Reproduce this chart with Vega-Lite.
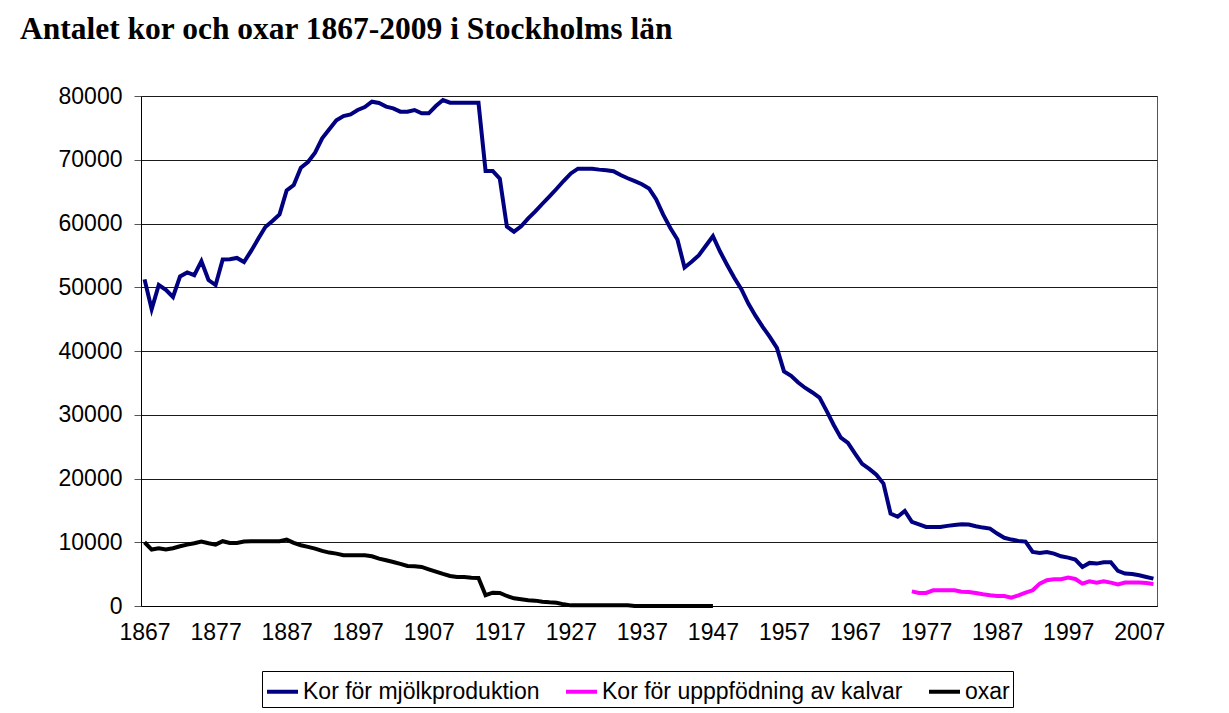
{
"$schema": "https://vega.github.io/schema/vega-lite/v6.json",
"width": 1016,
"height": 510,
"autosize": {"type": "none"},
"padding": {"left": 141, "top": 96, "right": 72, "bottom": 107},
"background": "white",
"title": {"text": "Antalet kor och oxar 1867-2009 i Stockholms län", "anchor": "start", "frame": "group", "dx": -121, "offset": 40, "font": "Liberation Serif", "fontSize": 31.5, "fontWeight": "bold", "color": "black"},
"data": {"values": [
{"year":1867,"series":"Kor för mjölkproduktion","count":51240},
{"year":1868,"series":"Kor för mjölkproduktion","count":46540},
{"year":1869,"series":"Kor för mjölkproduktion","count":50350},
{"year":1870,"series":"Kor för mjölkproduktion","count":49600},
{"year":1871,"series":"Kor för mjölkproduktion","count":48470},
{"year":1872,"series":"Kor för mjölkproduktion","count":51700},
{"year":1873,"series":"Kor för mjölkproduktion","count":52330},
{"year":1874,"series":"Kor för mjölkproduktion","count":51900},
{"year":1875,"series":"Kor för mjölkproduktion","count":54100},
{"year":1876,"series":"Kor för mjölkproduktion","count":51130},
{"year":1877,"series":"Kor för mjölkproduktion","count":50350},
{"year":1878,"series":"Kor för mjölkproduktion","count":54370},
{"year":1879,"series":"Kor för mjölkproduktion","count":54400},
{"year":1880,"series":"Kor för mjölkproduktion","count":54600},
{"year":1881,"series":"Kor för mjölkproduktion","count":53950},
{"year":1882,"series":"Kor för mjölkproduktion","count":55700},
{"year":1883,"series":"Kor för mjölkproduktion","count":57600},
{"year":1884,"series":"Kor för mjölkproduktion","count":59450},
{"year":1885,"series":"Kor för mjölkproduktion","count":60390},
{"year":1886,"series":"Kor för mjölkproduktion","count":61430},
{"year":1887,"series":"Kor för mjölkproduktion","count":65200},
{"year":1888,"series":"Kor för mjölkproduktion","count":66040},
{"year":1889,"series":"Kor för mjölkproduktion","count":68760},
{"year":1890,"series":"Kor för mjölkproduktion","count":69650},
{"year":1891,"series":"Kor för mjölkproduktion","count":71100},
{"year":1892,"series":"Kor för mjölkproduktion","count":73360},
{"year":1893,"series":"Kor för mjölkproduktion","count":74770},
{"year":1894,"series":"Kor för mjölkproduktion","count":76180},
{"year":1895,"series":"Kor för mjölkproduktion","count":76860},
{"year":1896,"series":"Kor för mjölkproduktion","count":77120},
{"year":1897,"series":"Kor för mjölkproduktion","count":77800},
{"year":1898,"series":"Kor för mjölkproduktion","count":78270},
{"year":1899,"series":"Kor för mjölkproduktion","count":79110},
{"year":1900,"series":"Kor för mjölkproduktion","count":78900},
{"year":1901,"series":"Kor för mjölkproduktion","count":78330},
{"year":1902,"series":"Kor för mjölkproduktion","count":78060},
{"year":1903,"series":"Kor för mjölkproduktion","count":77540},
{"year":1904,"series":"Kor för mjölkproduktion","count":77540},
{"year":1905,"series":"Kor för mjölkproduktion","count":77800},
{"year":1906,"series":"Kor för mjölkproduktion","count":77280},
{"year":1907,"series":"Kor för mjölkproduktion","count":77280},
{"year":1908,"series":"Kor för mjölkproduktion","count":78430},
{"year":1909,"series":"Kor för mjölkproduktion","count":79370},
{"year":1910,"series":"Kor för mjölkproduktion","count":78950},
{"year":1911,"series":"Kor för mjölkproduktion","count":78950},
{"year":1912,"series":"Kor för mjölkproduktion","count":78950},
{"year":1913,"series":"Kor för mjölkproduktion","count":78950},
{"year":1914,"series":"Kor för mjölkproduktion","count":78950},
{"year":1915,"series":"Kor för mjölkproduktion","count":68240},
{"year":1916,"series":"Kor för mjölkproduktion","count":68240},
{"year":1917,"series":"Kor för mjölkproduktion","count":67030},
{"year":1918,"series":"Kor för mjölkproduktion","count":59500},
{"year":1919,"series":"Kor för mjölkproduktion","count":58720},
{"year":1920,"series":"Kor för mjölkproduktion","count":59550},
{"year":1921,"series":"Kor för mjölkproduktion","count":60800},
{"year":1922,"series":"Kor för mjölkproduktion","count":61900},
{"year":1923,"series":"Kor för mjölkproduktion","count":63100},
{"year":1924,"series":"Kor för mjölkproduktion","count":64250},
{"year":1925,"series":"Kor för mjölkproduktion","count":65450},
{"year":1926,"series":"Kor för mjölkproduktion","count":66700},
{"year":1927,"series":"Kor för mjölkproduktion","count":67850},
{"year":1928,"series":"Kor för mjölkproduktion","count":68600},
{"year":1929,"series":"Kor för mjölkproduktion","count":68600},
{"year":1930,"series":"Kor för mjölkproduktion","count":68600},
{"year":1931,"series":"Kor för mjölkproduktion","count":68450},
{"year":1932,"series":"Kor för mjölkproduktion","count":68350},
{"year":1933,"series":"Kor för mjölkproduktion","count":68200},
{"year":1934,"series":"Kor för mjölkproduktion","count":67600},
{"year":1935,"series":"Kor för mjölkproduktion","count":67100},
{"year":1936,"series":"Kor för mjölkproduktion","count":66650},
{"year":1937,"series":"Kor för mjölkproduktion","count":66150},
{"year":1938,"series":"Kor för mjölkproduktion","count":65500},
{"year":1939,"series":"Kor för mjölkproduktion","count":63800},
{"year":1940,"series":"Kor för mjölkproduktion","count":61400},
{"year":1941,"series":"Kor för mjölkproduktion","count":59300},
{"year":1942,"series":"Kor för mjölkproduktion","count":57500},
{"year":1943,"series":"Kor för mjölkproduktion","count":53100},
{"year":1944,"series":"Kor för mjölkproduktion","count":54000},
{"year":1945,"series":"Kor för mjölkproduktion","count":55000},
{"year":1946,"series":"Kor för mjölkproduktion","count":56500},
{"year":1947,"series":"Kor för mjölkproduktion","count":58000},
{"year":1948,"series":"Kor för mjölkproduktion","count":55600},
{"year":1949,"series":"Kor för mjölkproduktion","count":53500},
{"year":1950,"series":"Kor för mjölkproduktion","count":51500},
{"year":1951,"series":"Kor för mjölkproduktion","count":49700},
{"year":1952,"series":"Kor för mjölkproduktion","count":47400},
{"year":1953,"series":"Kor för mjölkproduktion","count":45500},
{"year":1954,"series":"Kor för mjölkproduktion","count":43800},
{"year":1955,"series":"Kor för mjölkproduktion","count":42200},
{"year":1956,"series":"Kor för mjölkproduktion","count":40500},
{"year":1957,"series":"Kor för mjölkproduktion","count":36800},
{"year":1958,"series":"Kor för mjölkproduktion","count":36100},
{"year":1959,"series":"Kor för mjölkproduktion","count":35050},
{"year":1960,"series":"Kor för mjölkproduktion","count":34200},
{"year":1961,"series":"Kor för mjölkproduktion","count":33500},
{"year":1962,"series":"Kor för mjölkproduktion","count":32700},
{"year":1963,"series":"Kor för mjölkproduktion","count":30600},
{"year":1964,"series":"Kor för mjölkproduktion","count":28400},
{"year":1965,"series":"Kor för mjölkproduktion","count":26400},
{"year":1966,"series":"Kor för mjölkproduktion","count":25600},
{"year":1967,"series":"Kor för mjölkproduktion","count":23900},
{"year":1968,"series":"Kor för mjölkproduktion","count":22300},
{"year":1969,"series":"Kor för mjölkproduktion","count":21500},
{"year":1970,"series":"Kor för mjölkproduktion","count":20600},
{"year":1971,"series":"Kor för mjölkproduktion","count":19200},
{"year":1972,"series":"Kor för mjölkproduktion","count":14500},
{"year":1973,"series":"Kor för mjölkproduktion","count":14000},
{"year":1974,"series":"Kor för mjölkproduktion","count":14900},
{"year":1975,"series":"Kor för mjölkproduktion","count":13200},
{"year":1976,"series":"Kor för mjölkproduktion","count":12800},
{"year":1977,"series":"Kor för mjölkproduktion","count":12400},
{"year":1978,"series":"Kor för mjölkproduktion","count":12400},
{"year":1979,"series":"Kor för mjölkproduktion","count":12400},
{"year":1980,"series":"Kor för mjölkproduktion","count":12570},
{"year":1981,"series":"Kor för mjölkproduktion","count":12700},
{"year":1982,"series":"Kor för mjölkproduktion","count":12830},
{"year":1983,"series":"Kor för mjölkproduktion","count":12780},
{"year":1984,"series":"Kor för mjölkproduktion","count":12520},
{"year":1985,"series":"Kor för mjölkproduktion","count":12300},
{"year":1986,"series":"Kor för mjölkproduktion","count":12150},
{"year":1987,"series":"Kor för mjölkproduktion","count":11360},
{"year":1988,"series":"Kor för mjölkproduktion","count":10700},
{"year":1989,"series":"Kor för mjölkproduktion","count":10420},
{"year":1990,"series":"Kor för mjölkproduktion","count":10210},
{"year":1991,"series":"Kor för mjölkproduktion","count":10100},
{"year":1992,"series":"Kor för mjölkproduktion","count":8480},
{"year":1993,"series":"Kor för mjölkproduktion","count":8330},
{"year":1994,"series":"Kor för mjölkproduktion","count":8480},
{"year":1995,"series":"Kor för mjölkproduktion","count":8220},
{"year":1996,"series":"Kor för mjölkproduktion","count":7800},
{"year":1997,"series":"Kor för mjölkproduktion","count":7590},
{"year":1998,"series":"Kor för mjölkproduktion","count":7280},
{"year":1999,"series":"Kor för mjölkproduktion","count":6130},
{"year":2000,"series":"Kor för mjölkproduktion","count":6760},
{"year":2001,"series":"Kor för mjölkproduktion","count":6650},
{"year":2002,"series":"Kor för mjölkproduktion","count":6860},
{"year":2003,"series":"Kor för mjölkproduktion","count":6860},
{"year":2004,"series":"Kor för mjölkproduktion","count":5500},
{"year":2005,"series":"Kor för mjölkproduktion","count":5080},
{"year":2006,"series":"Kor för mjölkproduktion","count":5030},
{"year":2007,"series":"Kor för mjölkproduktion","count":4820},
{"year":2008,"series":"Kor för mjölkproduktion","count":4560},
{"year":2009,"series":"Kor för mjölkproduktion","count":4300},
{"year":1975,"series":"Kor för upppfödning av kalvar","count":2300},
{"year":1976,"series":"Kor för upppfödning av kalvar","count":2040},
{"year":1977,"series":"Kor för upppfödning av kalvar","count":2040},
{"year":1978,"series":"Kor för upppfödning av kalvar","count":2460},
{"year":1979,"series":"Kor för upppfödning av kalvar","count":2460},
{"year":1980,"series":"Kor för upppfödning av kalvar","count":2460},
{"year":1981,"series":"Kor för upppfödning av kalvar","count":2460},
{"year":1982,"series":"Kor för upppfödning av kalvar","count":2250},
{"year":1983,"series":"Kor för upppfödning av kalvar","count":2200},
{"year":1984,"series":"Kor för upppfödning av kalvar","count":2040},
{"year":1985,"series":"Kor för upppfödning av kalvar","count":1830},
{"year":1986,"series":"Kor för upppfödning av kalvar","count":1680},
{"year":1987,"series":"Kor för upppfödning av kalvar","count":1570},
{"year":1988,"series":"Kor för upppfödning av kalvar","count":1570},
{"year":1989,"series":"Kor för upppfödning av kalvar","count":1310},
{"year":1990,"series":"Kor för upppfödning av kalvar","count":1680},
{"year":1991,"series":"Kor för upppfödning av kalvar","count":2090},
{"year":1992,"series":"Kor för upppfödning av kalvar","count":2460},
{"year":1993,"series":"Kor för upppfödning av kalvar","count":3510},
{"year":1994,"series":"Kor för upppfödning av kalvar","count":4030},
{"year":1995,"series":"Kor för upppfödning av kalvar","count":4190},
{"year":1996,"series":"Kor för upppfödning av kalvar","count":4190},
{"year":1997,"series":"Kor för upppfödning av kalvar","count":4450},
{"year":1998,"series":"Kor för upppfödning av kalvar","count":4240},
{"year":1999,"series":"Kor för upppfödning av kalvar","count":3510},
{"year":2000,"series":"Kor för upppfödning av kalvar","count":3870},
{"year":2001,"series":"Kor för upppfödning av kalvar","count":3670},
{"year":2002,"series":"Kor för upppfödning av kalvar","count":3870},
{"year":2003,"series":"Kor för upppfödning av kalvar","count":3670},
{"year":2004,"series":"Kor för upppfödning av kalvar","count":3400},
{"year":2005,"series":"Kor för upppfödning av kalvar","count":3670},
{"year":2006,"series":"Kor för upppfödning av kalvar","count":3670},
{"year":2007,"series":"Kor för upppfödning av kalvar","count":3670},
{"year":2008,"series":"Kor för upppfödning av kalvar","count":3610},
{"year":2009,"series":"Kor för upppfödning av kalvar","count":3460},
{"year":1867,"series":"oxar","count":10000},
{"year":1868,"series":"oxar","count":8850},
{"year":1869,"series":"oxar","count":9060},
{"year":1870,"series":"oxar","count":8850},
{"year":1871,"series":"oxar","count":9060},
{"year":1872,"series":"oxar","count":9370},
{"year":1873,"series":"oxar","count":9630},
{"year":1874,"series":"oxar","count":9840},
{"year":1875,"series":"oxar","count":10100},
{"year":1876,"series":"oxar","count":9840},
{"year":1877,"series":"oxar","count":9630},
{"year":1878,"series":"oxar","count":10160},
{"year":1879,"series":"oxar","count":9900},
{"year":1880,"series":"oxar","count":9900},
{"year":1881,"series":"oxar","count":10100},
{"year":1882,"series":"oxar","count":10160},
{"year":1883,"series":"oxar","count":10160},
{"year":1884,"series":"oxar","count":10160},
{"year":1885,"series":"oxar","count":10160},
{"year":1886,"series":"oxar","count":10160},
{"year":1887,"series":"oxar","count":10420},
{"year":1888,"series":"oxar","count":9900},
{"year":1889,"series":"oxar","count":9530},
{"year":1890,"series":"oxar","count":9270},
{"year":1891,"series":"oxar","count":9000},
{"year":1892,"series":"oxar","count":8640},
{"year":1893,"series":"oxar","count":8380},
{"year":1894,"series":"oxar","count":8220},
{"year":1895,"series":"oxar","count":7960},
{"year":1896,"series":"oxar","count":7960},
{"year":1897,"series":"oxar","count":7960},
{"year":1898,"series":"oxar","count":7960},
{"year":1899,"series":"oxar","count":7800},
{"year":1900,"series":"oxar","count":7440},
{"year":1901,"series":"oxar","count":7170},
{"year":1902,"series":"oxar","count":6910},
{"year":1903,"series":"oxar","count":6600},
{"year":1904,"series":"oxar","count":6280},
{"year":1905,"series":"oxar","count":6230},
{"year":1906,"series":"oxar","count":6130},
{"year":1907,"series":"oxar","count":5760},
{"year":1908,"series":"oxar","count":5400},
{"year":1909,"series":"oxar","count":5030},
{"year":1910,"series":"oxar","count":4710},
{"year":1911,"series":"oxar","count":4560},
{"year":1912,"series":"oxar","count":4560},
{"year":1913,"series":"oxar","count":4450},
{"year":1914,"series":"oxar","count":4400},
{"year":1915,"series":"oxar","count":1700},
{"year":1916,"series":"oxar","count":2090},
{"year":1917,"series":"oxar","count":2040},
{"year":1918,"series":"oxar","count":1570},
{"year":1919,"series":"oxar","count":1200},
{"year":1920,"series":"oxar","count":1050},
{"year":1921,"series":"oxar","count":890},
{"year":1922,"series":"oxar","count":840},
{"year":1923,"series":"oxar","count":680},
{"year":1924,"series":"oxar","count":580},
{"year":1925,"series":"oxar","count":520},
{"year":1926,"series":"oxar","count":260},
{"year":1927,"series":"oxar","count":100},
{"year":1928,"series":"oxar","count":100},
{"year":1929,"series":"oxar","count":100},
{"year":1930,"series":"oxar","count":100},
{"year":1931,"series":"oxar","count":100},
{"year":1932,"series":"oxar","count":100},
{"year":1933,"series":"oxar","count":100},
{"year":1934,"series":"oxar","count":100},
{"year":1935,"series":"oxar","count":100},
{"year":1936,"series":"oxar","count":0},
{"year":1937,"series":"oxar","count":0},
{"year":1938,"series":"oxar","count":0},
{"year":1939,"series":"oxar","count":0},
{"year":1940,"series":"oxar","count":0},
{"year":1941,"series":"oxar","count":0},
{"year":1942,"series":"oxar","count":0},
{"year":1943,"series":"oxar","count":0},
{"year":1944,"series":"oxar","count":0},
{"year":1945,"series":"oxar","count":0},
{"year":1946,"series":"oxar","count":0},
{"year":1947,"series":"oxar","count":0}
]},
"mark": {"type": "line", "strokeWidth": 4},
"encoding": {
"x": {"field": "year", "type": "quantitative", "scale": {"domain": [1866.5, 2009.5], "nice": false, "zero": false},
"axis": {"values": [1867,1877,1887,1897,1907,1917,1927,1937,1947,1957,1967,1977,1987,1997,2007], "format": "d", "title": null, "grid": false, "ticks": false, "labelPadding": 15, "labelFontSize": 23, "labelFont": "Liberation Sans", "labelColor": "black", "domainColor": "black"}},
"y": {"field": "count", "type": "quantitative", "scale": {"domain": [0, 80000], "nice": false},
"axis": {"values": [0,10000,20000,30000,40000,50000,60000,70000,80000], "format": "d", "title": null, "grid": true, "gridColor": "#1a1a1a", "ticks": true, "tickSize": 7, "tickColor": "#555555", "labelPadding": 12, "labelFontSize": 23, "labelFont": "Liberation Sans", "labelColor": "black", "domainColor": "black"}},
"color": {"field": "series", "type": "nominal",
"scale": {"domain": ["Kor för mjölkproduktion", "Kor för upppfödning av kalvar", "oxar"], "range": ["#000080", "#FF00FF", "#000000"]},
"legend": {"title": null, "orient": "none", "legendX": 121, "legendY": 575, "direction": "horizontal", "symbolType": "stroke", "symbolSize": 961, "symbolStrokeWidth": 4, "labelFontSize": 23, "labelFont": "Liberation Sans", "labelColor": "black", "labelOffset": 3, "labelLimit": 0, "columnPadding": 18, "strokeColor": "black", "padding": 3}}
},
"config": {
"view": {"stroke": "#555555"}
}
}
